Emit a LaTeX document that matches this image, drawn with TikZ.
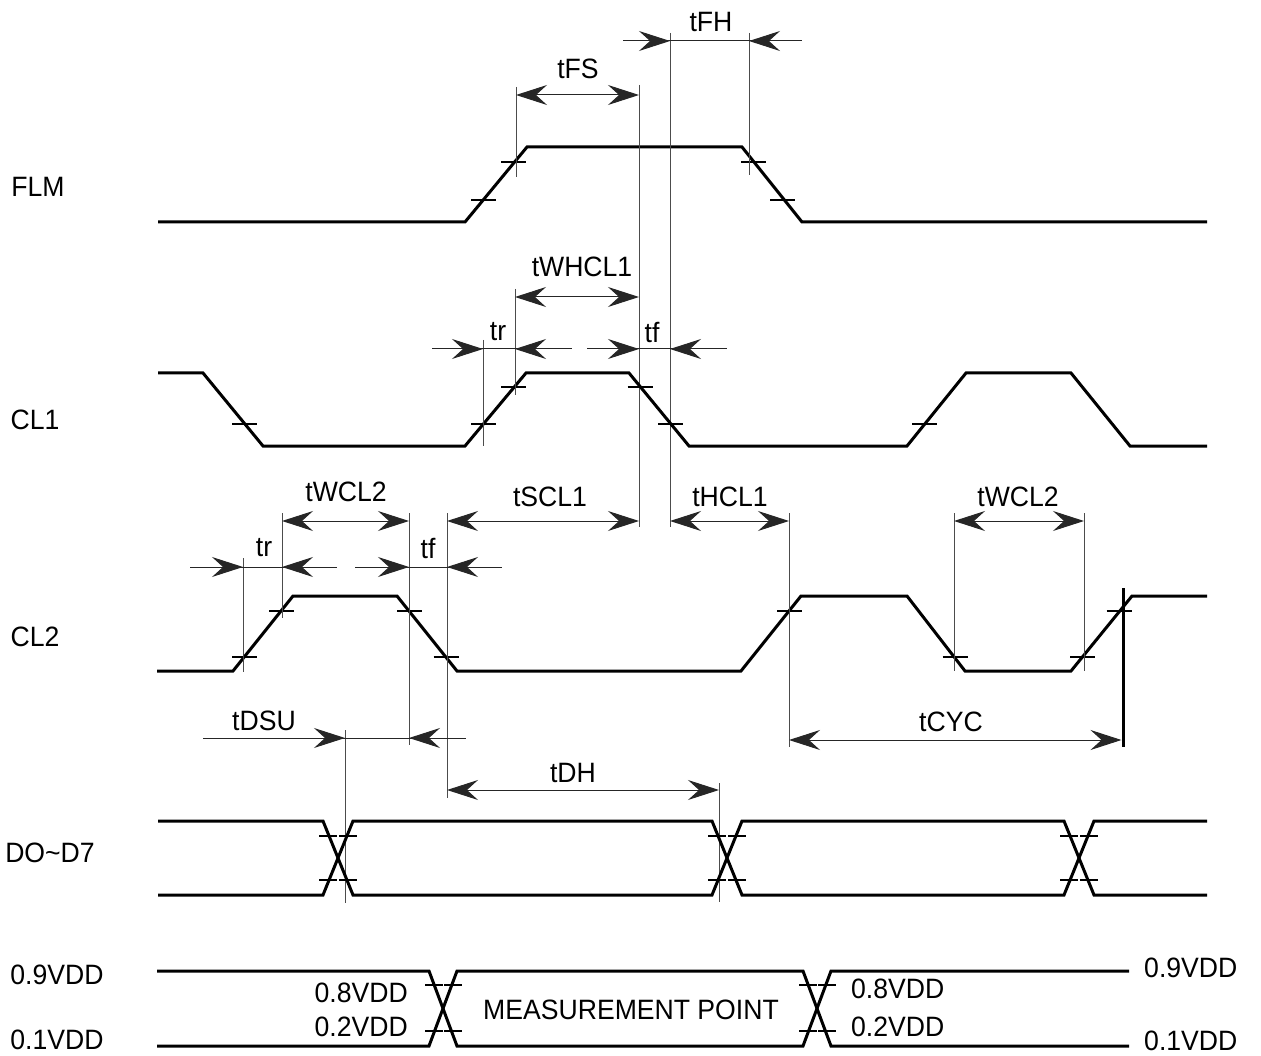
\documentclass[tikz,border=0pt]{standalone}
\usepackage{fontspec}
\setmainfont{Liberation Sans}[FakeStretch=0.95]
\usetikzlibrary{arrows.meta}
\newcommand\mytick[3][25]{\draw[tk] ({#2-#1/2},#3) -- ({#2+#1/2},#3);}
\begin{document}
\begin{tikzpicture}[x=1pt,y=-1pt,
  >={Stealth[length=31pt,width=20pt,inset=11pt]},
  sig/.style={line width=3pt,line join=miter},
  tk/.style={line width=2.6pt},
  dim/.style={line width=1pt,draw=black!85},
  ext/.style={line width=1pt,draw=black!70},
  lab/.style={inner sep=0pt,font=\fontsize{28}{30}\selectfont}]
\useasboundingbox (0,0) rectangle (1261,1056);

% ---------- signal names ----------
\node[lab] (nFLM) at (38,187) {FLM};
\node[lab] (nCL1) at (35,420) {CL1};
\node[lab] (nCL2) at (35,637) {CL2};
\node[lab] (nD)   at (50,853) {DO\textasciitilde D7};

% ---------- FLM ----------
\draw[sig] (158,222) -- (465,222) -- (527,147) -- (742,147) -- (802,222) -- (1207,222);
\mytick{483.5}{200} \mytick{513.5}{162} \mytick{753.5}{162} \mytick{782.5}{200}

% tFS
\draw[ext] (516,87) -- (516,177);
\draw[dim,<->] (516,95) -- (639,95);
\node[lab] (ltFS) at (578,69) {tFS};
\draw[ext] (639,85) -- (639,527);
\draw[ext] (670,33) -- (670,527);
% tFH
\draw[ext] (749,33) -- (749,175);
\draw[dim] (623,41) -- (802,41);
\draw[dim,->] (630,41) -- (670,41);
\draw[dim,->] (795,41) -- (749,41);
\node[lab] (ltFH) at (711,22) {tFH};

% ---------- CL1 ----------
\draw[sig] (158,373) -- (203,373) -- (263,446) -- (465,446) -- (526,373) -- (629,373) -- (689,446)
  -- (907,446) -- (966,373) -- (1071,373) -- (1130,446) -- (1207,446);
\mytick{244.5}{424} \mytick{483.5}{424} \mytick{513.5}{387} \mytick{640}{387}
\mytick{670.5}{424} \mytick{924.5}{424}

% tWHCL1
\draw[ext] (515,289) -- (515,395);
\draw[dim,<->] (515,297) -- (639,297);
\node[lab] (ltWHCL1) at (582,267) {tWHCL1};
% tr / tf (CL1)
\draw[ext] (483,340) -- (483,446);
\draw[dim] (432,349) -- (572,349);
\draw[dim] (587,349) -- (727,349);
\draw[dim,->] (440,349) -- (483,349);
\draw[dim,->] (565,349) -- (515,349);
\draw[dim,->] (595,349) -- (639,349);
\draw[dim,->] (720,349) -- (670,349);
\node[lab] (ltr1) at (498,332) {tr};
\node[lab] (ltf1) at (652,332) {tf};

% ---------- CL2 ----------
\draw[sig] (157,671) -- (233,671) -- (293,596) -- (397,596) -- (457,671) -- (741,671) -- (801,596)
  -- (907,596) -- (965,671) -- (1071,671) -- (1132,596) -- (1207,596);
\mytick{244.5}{657} \mytick{281.5}{611} \mytick{409.5}{611} \mytick{446}{657}
\mytick{789.5}{611} \mytick{955}{657} \mytick{1082.5}{657} \mytick{1119}{611}

% tWCL2 (left)
\draw[ext] (282,513) -- (282,618);
\draw[ext] (409,513) -- (409,745);
\draw[dim,<->] (282,521) -- (409,521);
\node[lab] (ltWCL2a) at (346,492) {tWCL2};
% tSCL1
\draw[ext] (447,513) -- (447,798);
\draw[dim,<->] (447,521) -- (639,521);
\node[lab] (ltSCL1) at (550,497) {tSCL1};
% tHCL1
\draw[ext] (789,513) -- (789,747);
\draw[dim,<->] (670,521) -- (789,521);
\node[lab] (ltHCL1) at (730,497) {tHCL1};
% tWCL2 (right)
\draw[ext] (954,513) -- (954,671);
\draw[ext] (1084,513) -- (1084,671);
\draw[dim,<->] (954,521) -- (1084,521);
\node[lab] (ltWCL2b) at (1018,497) {tWCL2};
% tr / tf (CL2)
\draw[ext] (243,558) -- (243,672);
\draw[dim] (190,567) -- (337,567);
\draw[dim] (355,567) -- (502,567);
\draw[dim,->] (200,567) -- (243,567);
\draw[dim,->] (330,567) -- (282,567);
\draw[dim,->] (362,567) -- (409,567);
\draw[dim,->] (495,567) -- (447,567);
\node[lab] (ltr2) at (264,548) {tr};
\node[lab] (ltf2) at (428,548) {tf};

% tCYC
\draw[line width=3pt] (1123,588) -- (1123,747);
\draw[dim,<->] (789,740) -- (1121.5,740);
\node[lab] (ltCYC) at (951,722) {tCYC};

% tDSU
\draw[ext] (345,730) -- (345,903);
\draw[dim] (203,738) -- (466,738);
\draw[dim,->] (300,738) -- (345,738);
\draw[dim,->] (455,738) -- (409,738);
\node[lab] (ltDSU) at (264,721) {tDSU};
% tDH
\draw[ext] (719,783) -- (719,902);
\draw[dim,<->] (447,790) -- (719,790);
\node[lab] (ltDH) at (573,773) {tDH};

% ---------- D0~D7 ----------
\draw[sig] (158,821) -- (323,821) -- (353,895) -- (712,895) -- (742,821) -- (1064,821) -- (1094,895) -- (1207,895);
\draw[sig] (158,895) -- (323,895) -- (353,821) -- (712,821) -- (742,895) -- (1064,895) -- (1094,821) -- (1207,821);
\foreach \a in {323,712,1064}{
  \mytick[18]{\a+5}{836} \mytick[18]{\a+25}{836}
  \mytick[18]{\a+5}{880} \mytick[18]{\a+25}{880}
}

% ---------- legend ----------
\draw[sig] (157,971) -- (429,971) -- (457,1046) -- (803,1046) -- (831,971) -- (1129,971);
\draw[sig] (157,1046) -- (429,1046) -- (457,971) -- (803,971) -- (831,1046) -- (1129,1046);
\foreach \a in {429,803}{
  \mytick[18]{\a+5}{985} \mytick[18]{\a+24}{985}
  \mytick[18]{\a+5}{1031} \mytick[18]{\a+24}{1031}
}
\node[lab] (l09a) at (57,975) {0.9VDD};
\node[lab] (l01a) at (57,1040) {0.1VDD};
\node[lab,anchor=east] (l08a) at (408,993) {0.8VDD};
\node[lab,anchor=east] (l02a) at (408,1027) {0.2VDD};
\node[lab] (lmp) at (631,1010) {MEASUREMENT POINT};
\node[lab,anchor=west] (l08b) at (851,989) {0.8VDD};
\node[lab,anchor=west] (l02b) at (851,1027) {0.2VDD};
\node[lab,anchor=west] (l09b) at (1144,968) {0.9VDD};
\node[lab,anchor=west] (l01b) at (1144,1041) {0.1VDD};
\end{tikzpicture}
\end{document}
